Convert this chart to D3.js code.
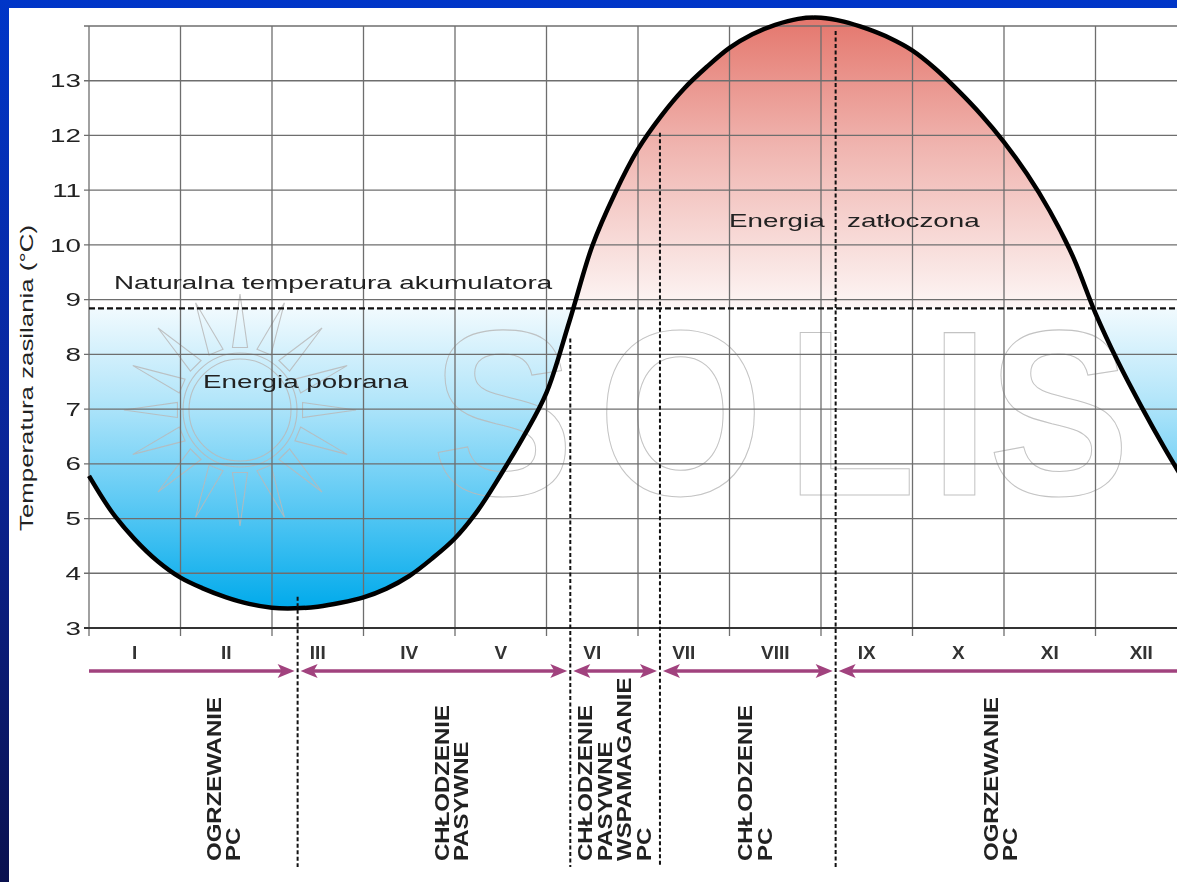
<!DOCTYPE html>
<html><head><meta charset="utf-8">
<script src="https://cdn.jsdelivr.net/npm/d3@7"></script>
<style>html,body{margin:0;padding:0;overflow:hidden;background:#0a2596}svg{display:block}</style>
</head><body>
<script>
// ---------- data ----------
const months = ["I","II","III","IV","V","VI","VII","VIII","IX","X","XI","XII"];
const yTicks = [3,4,5,6,7,8,9,10,11,12,13];
const yGrid = [3,4,5,6,7,8,9,10,11,12,13,14];
const curveMonth = [0,0.25,0.5,0.75,1,1.25,1.5,1.75,2,2.25,2.5,2.75,3,3.25,3.5,3.75,4,4.25,4.5,4.75,5,5.25,5.5,5.75,6,6.25,6.5,6.75,7,7.25,7.5,7.75,8,8.25,8.5,8.75,9,9.25,9.5,9.75,10,10.25,10.5,10.75,11,11.25,11.5,11.75,12];
const curveTemp  = [5.78,5.12,4.62,4.22,3.92,3.72,3.56,3.44,3.37,3.36,3.39,3.46,3.56,3.72,3.95,4.27,4.64,5.15,5.8,6.5,7.3,8.6,9.98,10.95,11.75,12.35,12.85,13.25,13.6,13.85,14.02,14.13,14.15,14.08,13.95,13.78,13.55,13.22,12.82,12.38,11.88,11.3,10.62,9.8,8.75,7.85,7.05,6.3,5.6];
const naturalTemp = 8.84;
const seasonBounds = [2.28, 5.26, 6.24, 8.16];
const boundTopTemp = [3.57, 8.29, 12.05, 13.91];
const seasonLabels = [["OGRZEWANIE","PC"],["CHŁODZENIE","PASYWNE"],["CHŁODZENIE","PASYWNE","WSPAMAGANIE","PC"],["CHŁODZENIE","PC"],["OGRZEWANIE","PC"]];
const seasonLabelPos = [1.44, 3.93, 5.50, 7.25, 9.93];
const yTitle = "Temperatura zasilania (°C)";
const naturalLabel = "Naturalna temperatura akumulatora";
const coldLabel = "Energia pobrana";
const warmLabel = ["Energia","zatłoczona"];
const watermarkLetters = ["S","O","L","I","S"];

// ---------- layout ----------
const W = 1177, H = 882;
const x = d3.scaleLinear().domain([0,12]).range([89, 89 + 12*91.5]);
const y = d3.scaleLinear().domain([3,14]).range([628, 26]);
const SX = 1.5; // horizontal glyph stretch of the original picture

const svg = d3.select("body").append("svg").attr("width", W).attr("height", H)
  .style("font-family", "'Liberation Sans', Arial, sans-serif");
const defs = svg.append("defs");

const bg = defs.append("linearGradient").attr("id","bg").attr("x1",0).attr("y1",0).attr("x2",0).attr("y2",1);
bg.append("stop").attr("offset",0).attr("stop-color","#0036c8");
bg.append("stop").attr("offset",0.5).attr("stop-color","#0a2598");
bg.append("stop").attr("offset",1).attr("stop-color","#0a114f");

const yn = y(naturalTemp);
const blue = defs.append("linearGradient").attr("id","blue").attr("gradientUnits","userSpaceOnUse")
  .attr("x1",0).attr("x2",0).attr("y1",yn).attr("y2",y(3.35));
[[0,"#f1fafe"],[0.3,"#b4e6fa"],[0.65,"#5cc9f4"],[1,"#00aaeb"]].forEach(s=>blue.append("stop").attr("offset",s[0]).attr("stop-color",s[1]));
const red = defs.append("linearGradient").attr("id","red").attr("gradientUnits","userSpaceOnUse")
  .attr("x1",0).attr("x2",0).attr("y1",y(14.17)).attr("y2",yn);
[[0,"#e4766c"],[0.45,"#f0b5b0"],[1,"#fdf6f5"]].forEach(s=>red.append("stop").attr("offset",s[0]).attr("stop-color",s[1]));

defs.append("clipPath").attr("id","above").append("rect").attr("x",0).attr("y",0).attr("width",W).attr("height",yn);
defs.append("clipPath").attr("id","below").append("rect").attr("x",0).attr("y",yn).attr("width",W).attr("height",H-yn);

svg.append("rect").attr("width",W).attr("height",H).attr("fill","url(#bg)");
svg.append("rect").attr("x",9).attr("y",8).attr("width",W).attr("height",H).attr("fill","#fff");

const pts = curveMonth.map((m,i)=>[m,curveTemp[i]]);
const crv = d3.curveCatmullRom.alpha(0.5);
const area = d3.area().x(d=>x(d[0])).y0(yn).y1(d=>y(d[1])).curve(crv);
svg.append("path").datum(pts).attr("d",area).attr("fill","url(#blue)").attr("clip-path","url(#below)");
svg.append("path").datum(pts).attr("d",area).attr("fill","url(#red)").attr("clip-path","url(#above)");

// ---------- watermark ----------
const wm = svg.append("g").attr("fill","none").attr("stroke","#b9b9b9").attr("stroke-width",1.1).attr("opacity",0.85);
const sc = [240, 410];
wm.append("circle").attr("cx",sc[0]).attr("cy",sc[1]).attr("r",51);
wm.append("circle").attr("cx",sc[0]).attr("cy",sc[1]).attr("r",57);
d3.range(16).forEach(i=>{
  const a = i*Math.PI/8 - Math.PI/2, r0 = 63, r1 = 116, hw = 0.12;
  const p = [[Math.cos(a-hw)*r0, Math.sin(a-hw)*r0],[Math.cos(a)*r1, Math.sin(a)*r1],[Math.cos(a+hw)*r0, Math.sin(a+hw)*r0]];
  wm.append("path").attr("d","M"+p.map(q=>[sc[0]+q[0],sc[1]+q[1]].join(",")).join("L")+"Z");
});
// one text element, letters placed individually (horizontally condensed)
const wsx = 0.9, letterX = [432,598,786,930,988];
const wt = wm.append("text").attr("transform",`translate(0,495) scale(${wsx},1)`)
  .attr("font-size",236).attr("font-weight","bold");
watermarkLetters.forEach((l,i)=>{
  wt.append("tspan").attr("x",letterX[i]/wsx).attr("y",0).text(l);
});

// ---------- grid ----------
const grid = svg.append("g").attr("stroke","#6e6e6e").attr("stroke-width",1.3);
grid.selectAll("line.h").data(yGrid.filter(v=>v>3)).join("line")
  .attr("x1",84).attr("x2",W).attr("y1",d=>y(d)).attr("y2",d=>y(d));
grid.selectAll("line.v").data(d3.range(0,13)).join("line")
  .attr("x1",d=>x(d)).attr("x2",d=>x(d)).attr("y1",y(14)).attr("y2",y(3)+8);
svg.append("line").attr("x1",84).attr("x2",W).attr("y1",y(3)).attr("y2",y(3)).attr("stroke","#333").attr("stroke-width",2.2);

// natural temperature dashed line
svg.append("line").attr("x1",x(0)).attr("x2",W).attr("y1",yn).attr("y2",yn)
  .attr("stroke","#111").attr("stroke-width",2.2).attr("stroke-dasharray","6,3");

// curve
svg.append("path").datum(pts).attr("fill","none").attr("stroke","#000").attr("stroke-width",4.5)
  .attr("d", d3.line().x(d=>x(d[0])).y(d=>y(d[1])).curve(crv));

// season dividers
svg.selectAll("line.div").data(seasonBounds).join("line")
  .attr("x1",d=>x(d)).attr("x2",d=>x(d)).attr("y1",(d,i)=>y(boundTopTemp[i])).attr("y2",867)
  .attr("stroke","#111").attr("stroke-width",2).attr("stroke-dasharray","4,2.5");

// helper for stretched text
function stretch(sel, f){ sel.each(function(){ const L=this.getComputedTextLength(); d3.select(this).attr("textLength",L*f).attr("lengthAdjust","spacingAndGlyphs"); }); return sel; }

// y tick labels
stretch(svg.append("g").selectAll("text").data(yTicks).join("text")
  .attr("x",81).attr("y",d=>y(d)).attr("dy","0.36em").attr("text-anchor","end")
  .attr("font-size",18.5).attr("fill","#222").text(d=>d), SX);

// y title
svg.append("text").attr("transform","translate(33,378) rotate(-90)").attr("text-anchor","middle")
  .attr("font-size",18).attr("fill","#222").attr("textLength",306).attr("lengthAdjust","spacingAndGlyphs").text(yTitle);

// month labels
svg.append("g").selectAll("text").data(months).join("text")
  .attr("x",(d,i)=>x(i+0.5)).attr("y",659).attr("text-anchor","middle")
  .attr("font-size",19).attr("font-weight","bold").attr("fill","#333").text(d=>d);

// annotations
stretch(svg.append("text").attr("x",114).attr("y",289).attr("font-size",18.5).attr("fill","#222").text(naturalLabel), SX);
stretch(svg.append("text").attr("x",203).attr("y",388).attr("font-size",18.5).attr("fill","#222").text(coldLabel), SX);
stretch(svg.append("text").attr("x",729).attr("y",227).attr("font-size",18.5).attr("fill","#222").text(warmLabel[0]), SX);
stretch(svg.append("text").attr("x",847).attr("y",227).attr("font-size",18.5).attr("fill","#222").text(warmLabel[1]), SX);

// arrows
const ay = 671, acol = "#a1427e";
const segs = [[0, seasonBounds[0], false, true]];
for (let i=0;i<seasonBounds.length-1;i++) segs.push([seasonBounds[i], seasonBounds[i+1], true, true]);
segs.push([seasonBounds[3], 12, true, false]);
const ag = svg.append("g");
segs.forEach(s=>{
  const xa = x(s[0]) + (s[2]?3:0), xb = x(s[1]) - (s[3]?3:0);
  ag.append("line").attr("x1",xa+(s[2]?10:0)).attr("x2",xb-(s[3]?10:0)).attr("y1",ay).attr("y2",ay).attr("stroke",acol).attr("stroke-width",3.5);
  if (s[2]) ag.append("path").attr("d",`M${xa},${ay}L${xa+17},${ay-7}L${xa+13},${ay}L${xa+17},${ay+7}Z`).attr("fill",acol);
  if (s[3]) ag.append("path").attr("d",`M${xb},${ay}L${xb-17},${ay-7}L${xb-13},${ay}L${xb-17},${ay+7}Z`).attr("fill",acol);
});

// rotated season labels
seasonLabels.forEach((lines,gi)=>{
  lines.forEach((t,li)=>{
    const tx = x(seasonLabelPos[gi]) + li*19.5;
    stretch(svg.append("text").attr("transform",`translate(${tx},861) rotate(-90)`)
      .attr("font-size",19.5).attr("font-weight","bold").attr("fill","#222").text(t), 1.23);
  });
});
</script>
</body></html>
